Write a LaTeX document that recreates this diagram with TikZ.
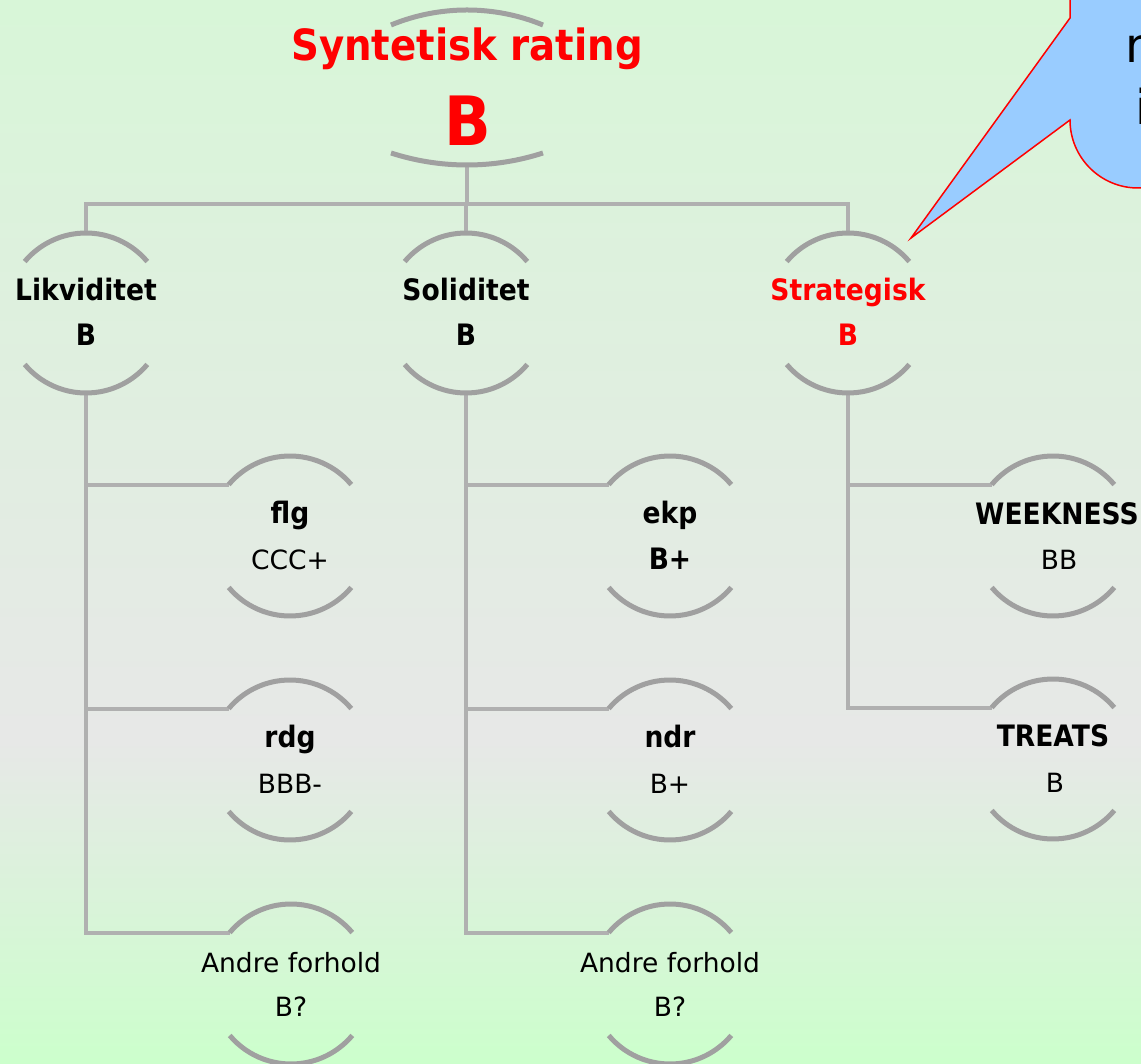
\documentclass[tikz,border=0pt]{standalone}
\usepackage{fontspec}
\setmainfont{DejaVu Sans}
\newfontfamily\condfont[FakeStretch=0.9]{DejaVu Sans}
\definecolor{bgtop}{RGB}{216,246,216}
\definecolor{bgmid}{RGB}{231,232,231}
\definecolor{bgbot}{RGB}{204,255,204}
\definecolor{arcgray}{RGB}{160,160,160}
\definecolor{conngray}{RGB}{176,176,176}
\definecolor{callblue}{RGB}{153,204,255}
\definecolor{hired}{RGB}{255,0,0}
\tikzset{
  ring/.style={circle, minimum size=160pt, inner sep=0pt, outer sep=0pt, draw=none},
  rootframe/.style={rectangle, minimum width=152pt, minimum height=128pt, inner sep=0pt, outer sep=0pt, draw=none},
  arcline/.style={draw=arcgray, line width=5pt},
  conn/.style={draw=conngray, line width=4pt},
  nm/.style={anchor=base, inner sep=0pt, font=\condfont\fontsize{29.5}{33}\selectfont\bfseries},
  val/.style={anchor=base, inner sep=0pt, font=\fontsize{26.5}{30}\selectfont},
  valb/.style={anchor=base, inner sep=0pt, font=\condfont\fontsize{29.5}{33}\selectfont\bfseries},
}
\begin{document}
\begin{tikzpicture}[x=1pt,y=1pt]
\useasboundingbox (0,0) rectangle (1141,-1064);
\clip (0,0) rectangle (1141,-1064);
% background
\shade[top color=bgtop, bottom color=bgmid] (0,0) rectangle (1141,-740);
\shade[top color=bgmid, bottom color=bgbot] (0,-740) rectangle (1141,-1064);

% frames
\node[rootframe] (root) at (467,-89) {};
\node[ring] (lik) at (86,-313) {};
\node[ring] (sol) at (466,-313) {};
\node[ring] (str) at (848,-313) {};
\node[ring] (flg) at (290,-536) {};
\node[ring] (rdg) at (290,-760) {};
\node[ring] (an1) at (291,-984) {};
\node[ring] (ekp) at (670,-536) {};
\node[ring] (ndr) at (670,-760) {};
\node[ring] (an2) at (670,-984) {};
\node[ring] (wk) at (1053,-536) {};
\node[ring] (tr) at (1053,-759) {};
\coordinate (rootbot) at ([yshift=-12pt]root.south);
\coordinate (bus) at (466,-204);

% connectors
\draw[conn] (rootbot) -- (rootbot |- bus);
\draw[conn] (lik.north) |- (bus) -| (str.north);
\draw[conn] (sol.north) -- (sol.north |- bus);
\draw[conn] (lik.south) |- (an1.140);
\draw[conn] (lik.south |- flg.140) -- (flg.140);
\draw[conn] (lik.south |- rdg.140) -- (rdg.140);
\draw[conn] (sol.south) |- (an2.140);
\draw[conn] (sol.south |- ekp.140) -- (ekp.140);
\draw[conn] (sol.south |- ndr.140) -- (ndr.140);
\draw[conn] (str.south) |- (tr.140);
\draw[conn] (str.south |- wk.140) -- (wk.140);

% arcs
\draw[arcline] (root.north east) arc[start angle=67.66, end angle=112.34, radius=200pt];
\draw[arcline] (root.south west) arc[start angle=252.06, end angle=287.94, radius=246.7pt];
\foreach \n in {lik,sol,str,flg,rdg,an1,ekp,ndr,an2,wk,tr}{
  \draw[arcline] (\n.40) arc[start angle=40, end angle=140, radius=80pt];
  \draw[arcline] (\n.220) arc[start angle=220, end angle=320, radius=80pt];
}

% texts
\node[anchor=base, inner sep=0pt, text=hired, font=\condfont\fontsize{43}{48}\selectfont\bfseries] (rtitle) at ([yshift=28pt]root.center) {Syntetisk rating};
\node[anchor=base, inner sep=0pt, text=hired, font=\condfont\fontsize{68}{72}\selectfont\bfseries] (rval) at ([xshift=1pt,yshift=-57pt]root.center) {B};

\node[nm] (likn) at ([yshift=12pt]lik.center) {Likviditet};
\node[valb] (likv) at ([yshift=-33pt]lik.center) {B};
\node[nm] (soln) at ([yshift=12pt]sol.center) {Soliditet};
\node[valb] (solv) at ([yshift=-33pt]sol.center) {B};
\node[nm, text=hired] (strn) at ([yshift=12pt]str.center) {Strategisk};
\node[valb, text=hired] (strv) at ([yshift=-33pt]str.center) {B};

\node[nm] (flgn) at ([yshift=13pt]flg.center) {flg};
\node[val] (flgv) at ([yshift=-33pt]flg.center) {CCC+};
\node[nm] (rdgn) at ([yshift=13pt]rdg.center) {rdg};
\node[val] (rdgv) at ([yshift=-33pt]rdg.center) {BBB-};
\node[val] (an1n) at ([yshift=12pt]an1.center) {Andre forhold};
\node[val] (an1v) at ([yshift=-32pt]an1.center) {B?};

\node[nm] (ekpn) at ([yshift=13pt]ekp.center) {ekp};
\node[valb] (ekpv) at ([yshift=-33pt]ekp.center) {B+};
\node[nm] (ndrn) at ([yshift=13pt]ndr.center) {ndr};
\node[val] (ndrv) at ([yshift=-33pt]ndr.center) {B+};
\node[val] (an2n) at ([yshift=12pt]an2.center) {Andre forhold};
\node[val] (an2v) at ([yshift=-32pt]an2.center) {B?};

\node[nm] (wkn) at ([xshift=4pt,yshift=12pt]wk.center) {WEEKNESS};
\node[val] (wkv) at ([xshift=6pt,yshift=-33pt]wk.center) {BB};
\node[nm] (trn) at ([yshift=13pt]tr.center) {TREATS};
\node[val] (trv) at ([xshift=2pt,yshift=-33pt]tr.center) {B};

% callout
\coordinate (tip) at (911,-238);
\filldraw[fill=callblue, draw=hired, line width=1.5pt, line join=miter]
  (1070,10) -- (1070,-18) -- (tip) -- (1070,-120)
  arc[start angle=180, end angle=270, radius=68pt] -- (1200,-188) -- (1200,10) -- cycle;
\node[anchor=base west, inner sep=0pt, font=\fontsize{48}{60}\selectfont] (cn) at (1125.5,-63) {n};
\node[anchor=base west, inner sep=0pt, font=\fontsize{48}{60}\selectfont] (ci) at (1135,-125) {i};
\end{tikzpicture}
\end{document}
